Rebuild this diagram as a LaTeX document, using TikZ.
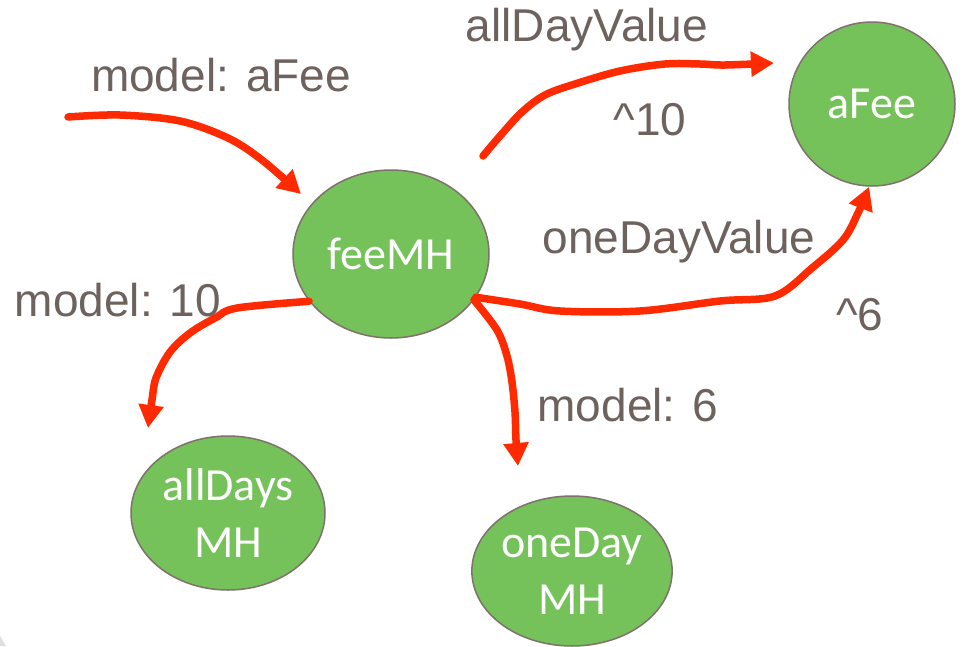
\documentclass[tikz,border=0pt]{standalone}
\usepackage{fontspec}
\setmainfont{Liberation Sans}
\newfontfamily\calfont{Carlito}
\usetikzlibrary{shapes.geometric,arrows.meta}
\definecolor{nodegreen}{HTML}{76C25A}
\definecolor{nodeedge}{HTML}{7F716C}
\definecolor{penred}{HTML}{FF2A00}
\definecolor{labelgrey}{HTML}{6D625D}
\tikzset{
  state/.style={ellipse, fill=nodegreen, draw=nodeedge, line width=1.5pt,
    inner sep=0pt, text=white, align=center,
    font=\calfont\fontsize{46}{57}\selectfont},
  ink/.style={draw=penred, line width=7.5pt, line cap=round, line join=round,
    -{Triangle[length=23pt,width=24pt]}},
  lbl/.style={text=labelgrey, font=\fontsize{46}{52}\selectfont, inner sep=0pt}
}
\begin{document}
\begin{tikzpicture}[x=1pt,y=-1pt]
\useasboundingbox (0,0) rectangle (970,646);
\fill[white] (0,0) rectangle (970,646);
\fill[gray!25] (0,636) -- (6,646) -- (0,646) -- cycle;

% message holders
\node[state, minimum width=196pt, minimum height=168pt] (feeMH) at (391,254) {feeMH};
\node[state, minimum width=166pt, minimum height=164pt] (aFee) at (872,104) {aFee};
\node[state, minimum width=194pt, minimum height=154pt] (allDays) at (228,513) {allDays\\MH};
\node[state, minimum width=200pt, minimum height=150pt] (oneDay) at (572,571) {oneDay\\MH};

% free ends of the strokes
\coordinate (inStart) at (68,117);
\coordinate (outStart) at (483,156);
\coordinate (aFeeIn) at (774,63);

% hand-drawn connectors
\draw[ink] plot[smooth, tension=0.55] coordinates
  {(inStart) (120,115) (180,121) (228,138) (262,160) (301,194)};
\draw[ink] plot[smooth, tension=0.55] coordinates
  {(outStart) (500,136) (522,112) (545,95) (575,84) (620,71) (665,64) (700,64) (725,65) (aFeeIn)};
\draw[ink] plot[smooth, tension=0.55] coordinates
  {(feeMH.-150) (237,308) (215,318) (190,333) (170,352) (156,378) (152,400) (148,428)};
\draw[ink] plot[smooth, tension=0.55] coordinates
  {(feeMH.-27) (520,304) (560,311) (640,311) (720,301) (775,296) (812,268) (843,240) (858,213) (aFee.-92)};
\draw[ink] plot[smooth, tension=0.55] coordinates
  {(feeMH.-29) (497,330) (507,356) (512,382) (515,412) (516,440) (518,466)};

% labels
\node[lbl] (lAFee) at (221,75) {model: aFee};
\node[lbl] (lAllDayValue) at (587,30) {allDayValue};
\node[lbl] (lPow10) at (650,120) {\^{}10};
\node[lbl] (lOneDayValue) at (679,242) {oneDayValue};
\node[lbl] (lModel10) at (118,300) {model: 10};
\node[lbl] (lPow6) at (860,315) {\^{}6};
\node[lbl] (lModel6) at (628,405) {model: 6};
\end{tikzpicture}
\end{document}
